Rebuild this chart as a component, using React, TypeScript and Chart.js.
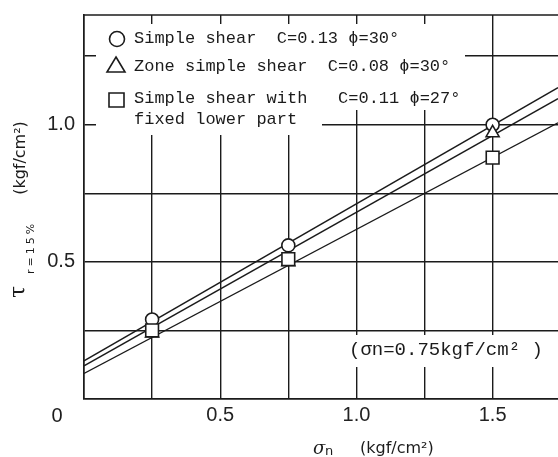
import { useEffect, useRef } from 'react';
import { Chart, registerables } from 'chart.js';

Chart.register(...registerables);

// Measured points (σn, τ r=15%)
const sigmaN = [0.25, 0.75, 1.5];
const simpleShear = [0.29, 0.56, 1.0];
const zoneSimpleShear = [0.24, 0.5, 0.97];
const fixedLowerPart = [0.25, 0.51, 0.88];

// Fitted strength lines (end points)
const fitSigma = [0, 1.74];
const simpleShearFit = [0.139, 1.135];
const zoneSimpleShearFit = [0.121, 1.095];
const fixedLowerPartFit = [0.093, 1.007];

// Tick values and labels
const xTickValues = [0, 0.25, 0.5, 0.75, 1.0, 1.25, 1.5];
const yTickValues = [0, 0.25, 0.5, 0.75, 1.0, 1.25];
const xTickLabels = ['0.5', '1.0', '1.5'];
const yTickLabels = ['0.5', '1.0'];

const legendRows = [
  'Simple shear  C=0.13 ϕ=30°',
  'Zone simple shear  C=0.08 ϕ=30°',
  'Simple shear with   C=0.11 ϕ=27°',
  'fixed lower part',
];
const annotationText = '(σn=0.75kgf/cm² )';

const INK = '#1b1b1b';

const pts = (ys: number[], xs: number[]) => xs.map((x, i) => ({ x, y: ys[i] }));

const overlayPlugin = {
  id: 'overlay',
  beforeDatasetsDraw(chart: any) {
    const ctx = chart.ctx;
    ctx.save();
    ctx.fillStyle = '#ffffff';
    ctx.fillRect(96, 24, 369, 86);
    ctx.fillRect(96, 108, 226, 27);
    ctx.fillRect(345, 335, 205, 32);
    ctx.restore();
  },
  afterDraw(chart: any) {
    const ctx = chart.ctx;
    const a = chart.chartArea;
    ctx.save();
    // top border
    ctx.strokeStyle = INK;
    ctx.lineWidth = 1.6;
    ctx.beginPath();
    ctx.moveTo(a.left, a.top);
    ctx.lineTo(a.right, a.top);
    ctx.stroke();

    // legend symbols
    ctx.lineWidth = 1.6;
    ctx.fillStyle = '#fff';
    ctx.beginPath();
    ctx.arc(117, 39, 7.5, 0, Math.PI * 2);
    ctx.fill();
    ctx.stroke();
    ctx.beginPath();
    ctx.moveTo(116, 57);
    ctx.lineTo(125, 72);
    ctx.lineTo(107, 72);
    ctx.closePath();
    ctx.fill();
    ctx.stroke();
    ctx.beginPath();
    ctx.rect(109, 93, 15, 14);
    ctx.fill();
    ctx.stroke();

    // legend texts
    ctx.fillStyle = INK;
    ctx.font = '17px "Liberation Mono", "DejaVu Sans Mono", monospace';
    ctx.textBaseline = 'middle';
    ctx.textAlign = 'left';
    const rowY = [38, 66, 98, 119];
    legendRows.forEach((t, i) => ctx.fillText(t, 134, rowY[i]));

    // annotation
    ctx.font = '19px "Liberation Mono", "DejaVu Sans Mono", monospace';
    ctx.fillText(annotationText, 349, 350);

    // origin label
    ctx.font = '20px "Liberation Sans", Arial, sans-serif';
    ctx.textAlign = 'center';
    ctx.fillText('0', 57, 416);

    // x axis title
    ctx.textAlign = 'left';
    ctx.font = 'italic 18px "DejaVu Serif", serif';
    ctx.fillText('σ', 313, 449);
    ctx.font = '13px "DejaVu Sans", sans-serif';
    ctx.fillText('n', 325, 452);
    ctx.font = '16px "DejaVu Sans", sans-serif';
    ctx.fillText('(kgf/cm²)', 360, 449);

    // y axis title (rotated)
    ctx.rotate(-Math.PI / 2);
    ctx.font = '16px "DejaVu Sans", sans-serif';
    ctx.textAlign = 'center';
    ctx.fillText('(kgf/cm²)', -158, 21);
    ctx.textAlign = 'left';
    ctx.font = '22px "DejaVu Serif", serif';
    ctx.fillText('τ', -298, 19);
    ctx.font = '11px "DejaVu Sans", sans-serif';
    (ctx as any).letterSpacing = '3px';
    ctx.fillText('r=15%', -274, 31);
    ctx.restore();
  },
};

export default function App() {
  const ref = useRef<HTMLCanvasElement>(null);
  useEffect(() => {
    if (!ref.current) return;
    const lineDs = (label: string, ys: number[]) => ({
      type: 'line' as const,
      label,
      data: pts(ys, fitSigma),
      showLine: true,
      borderColor: INK,
      borderWidth: 1.4,
      pointRadius: 0,
      fill: false,
      order: 2,
    });
    const markDs = (label: string, ys: number[], style: string, r: number) => ({
      type: 'scatter' as const,
      label,
      data: pts(ys, sigmaN),
      pointStyle: style,
      pointRadius: r,
      pointBackgroundColor: '#ffffff',
      pointBorderColor: INK,
      pointBorderWidth: 1.6,
      showLine: false,
      order: 1,
    });
    const chart = new Chart(ref.current, {
      type: 'scatter',
      data: {
        datasets: [
          markDs('Simple shear with fixed lower part', fixedLowerPart, 'rect', 9),
          markDs('Zone simple shear', zoneSimpleShear, 'triangle', 7.5),
          markDs('Simple shear', simpleShear, 'circle', 6.5),
          lineDs('fit simple', simpleShearFit),
          lineDs('fit zone', zoneSimpleShearFit),
          lineDs('fit fixed', fixedLowerPartFit),
        ] as any,
      },
      options: {
        responsive: false,
        animation: false,
        layout: { autoPadding: false, padding: { top: 15, right: 0, left: 0, bottom: 0 } },
        plugins: { legend: { display: false }, tooltip: { enabled: false } },
        scales: {
          x: {
            type: 'linear',
            min: 0,
            max: 1.74,
            afterBuildTicks: (s: any) => {
              s.ticks = xTickValues.map((v) => ({ value: v }));
            },
            afterFit: (s: any) => {
              s.height = 58;
              s.paddingLeft = 0;
              s.paddingRight = 0;
            },
            ticks: {
              autoSkip: false,
              maxRotation: 0,
              padding: 4,
              color: '#222',
              font: { family: '"Liberation Sans", Arial, sans-serif', size: 20 },
              callback: (v: any) => {
                const s = Number(v).toFixed(1);
                return xTickLabels.includes(s) ? s : '';
              },
            },
            grid: { color: INK, lineWidth: 1.4, drawTicks: false },
            border: { color: INK, width: 1.6 },
          },
          y: {
            type: 'linear',
            min: 0,
            max: 1.4,
            afterBuildTicks: (s: any) => {
              s.ticks = yTickValues.map((v) => ({ value: v }));
            },
            afterFit: (s: any) => {
              s.width = 84;
              s.paddingTop = 0;
              s.paddingBottom = 0;
            },
            ticks: {
              autoSkip: false,
              padding: 9,
              color: '#222',
              font: { family: '"Liberation Sans", Arial, sans-serif', size: 20 },
              callback: (v: any) => {
                const s = Number(v).toFixed(1);
                return yTickLabels.includes(s) ? s : '';
              },
            },
            grid: { color: INK, lineWidth: 1.4, drawTicks: false },
            border: { color: INK, width: 1.6 },
          },
        },
      },
      plugins: [overlayPlugin],
    });
    return () => chart.destroy();
  }, []);
  return (
    <div style={{ position: 'absolute', left: 0, top: 0, width: 558, height: 457, background: '#fff' }}>
      <canvas ref={ref} width={558} height={457} />
    </div>
  );
}
